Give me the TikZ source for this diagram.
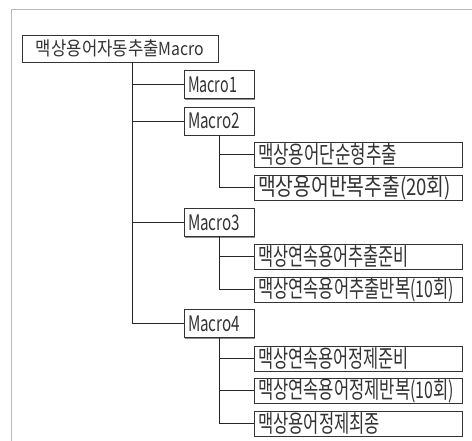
\documentclass[tikz,border=0pt]{standalone}
\usepackage{fontspec}
\usepackage{graphicx}
\newfontfamily\kr{Noto Sans CJK KR}
\newcommand{\fitto}[2]{\resizebox{#1}{\height}{#2}}
\newcommand{\rootfont}{\fontsize{19}{19}\selectfont}
\newcommand{\rootlat}{\fontsize{18}{18}\selectfont}
\newcommand{\leaffont}{\fontsize{24}{24}\selectfont}
\newcommand{\leaflat}{\fontsize{23}{23}\selectfont}
\newcommand{\macfont}{\fontsize{21.4}{21.4}\selectfont}
\usetikzlibrary{shadows}
\begin{document}
\begin{tikzpicture}[x=1pt,y=-1pt,
  box/.style={draw=black!80, line width=0.8pt, fill=white, inner ysep=0pt,
    drop shadow={shadow xshift=1.2pt, shadow yshift=-1.2pt, fill=black!45, opacity=1},
    text=black!80, anchor=center},
  rootbox/.style={box, minimum width=196pt, minimum height=27pt, align=center, font=\kr\rootfont},
  macbox/.style={box, minimum height=28pt, text width=62pt, inner xsep=4pt, align=left, font=\kr\macfont},
  leafbox/.style={box, minimum height=25pt, text width=200pt, inner xsep=4pt, align=left, font=\kr\leaffont},
  link/.style={draw=black!85, line width=0.8pt}]
\useasboundingbox (0,0) rectangle (472,441);
\clip (0,0) rectangle (472,441);
\fill[white] (0,0) rectangle (472,441);
\draw[gray!55, line width=0.8pt] (11.5,9) rectangle (520,520);

\node[rootbox] (root) at (120,48.5) {\fitto{168pt}{맥상용어자동추출{\rootlat Macro}}};
\coordinate (trunk) at (132,62);

\node[macbox] (m1) at (219,84.5) {\fitto{49pt}{Macro1}};
\node[macbox] (m2) at (219,121) {\fitto{52pt}{Macro2}};
\node[leafbox] (c21) at (358,154.5) {\fitto{139pt}{맥상용어단순형추출}};
\node[leafbox] (c22) at (358,187.5) {\fitto{193pt}{맥상용어반복추출{\leaflat (20}회{\leaflat )}}};
\node[macbox] (m3) at (219,222.5) {\fitto{52pt}{Macro3}};
\node[leafbox] (c31) at (358,256.5) {\fitto{151pt}{맥상연속용어추출준비}};
\node[leafbox] (c32) at (358,289.5) {\fitto{196pt}{맥상연속용어추출반복{\leaflat (10}회{\leaflat )}}};
\node[macbox] (m4) at (219,323.5) {\fitto{52pt}{Macro4}};
\node[leafbox] (c41) at (358,358.5) {\fitto{151pt}{맥상연속용어정제준비}};
\node[leafbox] (c42) at (358,390.5) {\fitto{196pt}{맥상연속용어정제반복{\leaflat (10}회{\leaflat )}}};
\node[leafbox] (c43) at (358,423.5) {\fitto{122pt}{맥상용어정제최종}};

\draw[link] (trunk) |- (m4.west);
\draw[link] (trunk |- m1.west) -- (m1.west);
\draw[link] (trunk |- m2.west) -- (m2.west);
\draw[link] (trunk |- m3.west) -- (m3.west);

\draw[link] (m2.south) |- (c22.west);
\draw[link] (m2.south |- c21.west) -- (c21.west);
\draw[link] (m3.south) |- (c32.west);
\draw[link] (m3.south |- c31.west) -- (c31.west);
\draw[link] (m4.south) |- (c43.west);
\draw[link] (m4.south |- c41.west) -- (c41.west);
\draw[link] (m4.south |- c42.west) -- (c42.west);
\end{tikzpicture}
\end{document}
